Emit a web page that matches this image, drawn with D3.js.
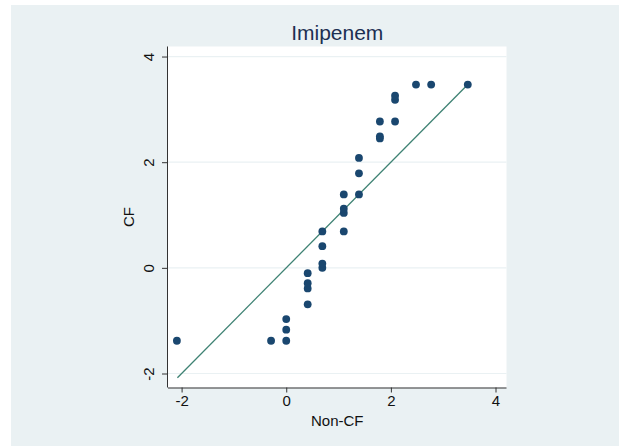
<!DOCTYPE html>
<html>
<head>
<meta charset="utf-8">
<script src="https://cdn.jsdelivr.net/npm/d3@7"></script>
<style>
  html, body { margin: 0; padding: 0; background: #ffffff; }
  text { font-family: "Liberation Sans", Arial, Helvetica, sans-serif; }
</style>
</head>
<body>
<svg id="chart" width="623" height="446"></svg>
<script>
// Quantile pairs (Non-CF vs CF)
const nonCF = [-2.09, -0.29, 0, 0, 0, 0.41, 0.41, 0.41, 0.41, 0.69, 0.69, 0.69, 0.69,
               1.10, 1.10, 1.10, 1.10, 1.39, 1.39, 1.39, 1.79, 1.79, 1.79,
               2.08, 2.08, 2.08, 2.48, 2.77, 3.47];
const cf    = [-1.38, -1.38, -1.38, -1.17, -0.97, -0.69, -0.39, -0.29, -0.10, 0.0, 0.08, 0.41, 0.69,
               0.69, 1.04, 1.12, 1.39, 1.39, 1.79, 2.08, 2.45, 2.49, 2.77,
               2.77, 3.18, 3.26, 3.47, 3.47, 3.47];
const xTicks = [-2, 0, 2, 4];
const yTicks = [-2, 0, 2, 4];
const refLine = [-2.08, 3.47];
const title = "Imipenem";
const xLabel = "Non-CF";
const yLabel = "CF";

const svg = d3.select("#chart");
const W = 623, H = 446;
const plot = { left: 168, right: 506.5, top: 46.5, bottom: 387.5 };

// background
svg.append("rect").attr("x", 0).attr("y", 0).attr("width", W).attr("height", H).attr("fill", "#ffffff");
svg.append("rect").attr("x", 11).attr("y", 5).attr("width", 608).attr("height", 441).attr("fill", "#eaf1f3");
svg.append("rect").attr("x", plot.left).attr("y", plot.top)
  .attr("width", plot.right - plot.left).attr("height", plot.bottom - plot.top).attr("fill", "#ffffff");

const x = d3.scaleLinear().domain([-2.26, 4.21]).range([plot.left, plot.right]);
const y = d3.scaleLinear().domain([-2.265, 4.19]).range([plot.bottom, plot.top]);

// grid lines
svg.append("g").selectAll("line").data(yTicks).join("line")
  .attr("x1", plot.left).attr("x2", plot.right)
  .attr("y1", d => y(d)).attr("y2", d => y(d))
  .attr("stroke", "#eaf1f3").attr("stroke-width", 1.2);

// axes
const xAxis = d3.axisBottom(x).tickValues(xTicks).tickSize(5).tickPadding(3)
  .tickFormat(d => d < 0 ? "-" + Math.abs(d) : String(d));
const gx = svg.append("g").attr("transform", `translate(0,${plot.bottom})`).call(xAxis);
gx.select(".domain").attr("d", `M${plot.left},0.5H${plot.right}`).attr("stroke", "#333");
gx.selectAll(".tick line").attr("stroke", "#333");
gx.selectAll(".tick text").attr("font-size", 15).attr("fill", "#111")
  .attr("font-family", "Liberation Sans, Arial, sans-serif");

const yAxis = d3.axisLeft(y).tickValues(yTicks).tickSize(6).tickPadding(0)
  .tickFormat(d => d < 0 ? "-" + Math.abs(d) : String(d));
const gy = svg.append("g").attr("transform", `translate(${plot.left},0)`).call(yAxis);
gy.select(".domain").attr("d", `M-0.5,${plot.top}V${plot.bottom}`).attr("stroke", "#333");
gy.selectAll(".tick line").attr("stroke", "#333");
gy.selectAll(".tick text")
  .attr("font-size", 15).attr("fill", "#111")
  .attr("font-family", "Liberation Sans, Arial, sans-serif")
  .attr("x", null).attr("dy", null)
  .attr("text-anchor", "middle")
  .attr("transform", "translate(-14,0) rotate(-90)");

// reference line y = x
svg.append("line")
  .attr("x1", x(refLine[0])).attr("y1", y(refLine[0]))
  .attr("x2", x(refLine[1])).attr("y2", y(refLine[1]))
  .attr("stroke", "#3e8273").attr("stroke-width", 1.3);

// points
const pts = nonCF.map((v, i) => ({ x: v, y: cf[i] }));
svg.append("g").selectAll("circle").data(pts).join("circle")
  .attr("cx", d => x(d.x)).attr("cy", d => y(d.y)).attr("r", 3.9)
  .attr("fill", "#1a476f");

// title
svg.append("text").attr("x", (plot.left + plot.right) / 2).attr("y", 40)
  .attr("text-anchor", "middle").attr("font-size", 21).attr("fill", "#1c2f52").text(title);

// axis titles
svg.append("text").attr("x", (plot.left + plot.right) / 2).attr("y", 426)
  .attr("text-anchor", "middle").attr("font-size", 15).attr("fill", "#111").text(xLabel);
svg.append("text")
  .attr("transform", `translate(134,${(plot.top + plot.bottom) / 2}) rotate(-90)`)
  .attr("text-anchor", "middle").attr("font-size", 15).attr("fill", "#111").text(yLabel);
</script>
</body>
</html>
